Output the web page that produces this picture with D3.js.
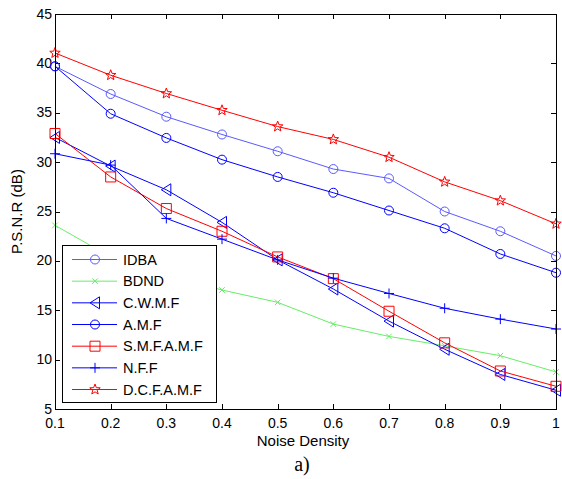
<!DOCTYPE html>
<html>
<head>
<meta charset="utf-8">
<script src="https://cdn.jsdelivr.net/npm/d3@7"></script>
<style>
    body { margin: 0; background: #fff; }
    svg { display: block; font-family: "Liberation Sans", Arial, sans-serif; }
</style>
</head>
<body>
<div id="chart"></div>
<script>
// data
const noiseDensity = [0.1, 0.2, 0.3, 0.4, 0.5, 0.6, 0.7, 0.8, 0.9, 1];
const idba   = [39.7, 36.9, 34.6, 32.8, 31.1, 29.3, 28.35, 25.0, 23.0, 20.5];
const bdnd   = [23.6, 20.4, 18.6, 17.05, 15.8, 13.6, 12.35, 11.4, 10.4, 8.75];
const cwmf   = [32.5, 29.6, 27.2, 23.9, 20.1, 17.15, 13.9, 11.05, 8.5, 6.9];
const amf    = [39.7, 34.9, 32.45, 30.25, 28.5, 26.9, 25.1, 23.3, 20.7, 18.8];
const smfamf = [32.9, 28.5, 25.3, 23.0, 20.4, 18.2, 14.9, 11.7, 8.85, 7.3];
const nff    = [30.85, 29.7, 24.3, 22.2, 20.1, 18.25, 16.7, 15.2, 14.1, 13.1];
const dcfamf = [41.05, 38.8, 36.95, 35.25, 33.6, 32.3, 30.5, 28.0, 26.1, 23.75];

const xTicks = [0.1, 0.2, 0.3, 0.4, 0.5, 0.6, 0.7, 0.8, 0.9, 1];
const yTicks = [5, 10, 15, 20, 25, 30, 35, 40, 45];

const series = [
    {name: "IDBA", values: idba, color: "#5a5aff", marker: "circle"},
    {name: "BDND", values: bdnd, color: "#66ee66", marker: "x"},
    {name: "C.W.M.F", values: cwmf, color: "#0000ff", marker: "triangle"},
    {name: "A.M.F", values: amf, color: "#0000ff", marker: "circle"},
    {name: "S.M.F.A.M.F", values: smfamf, color: "#ff0000", marker: "square"},
    {name: "N.F.F", values: nff, color: "#0000ff", marker: "plus"},
    {name: "D.C.F.A.M.F", values: dcfamf, color: "#ff0000", marker: "star"}
];

const width = 562, height = 479;
const plot = {left: 55, right: 556, top: 14, bottom: 409};

const svg = d3.select("#chart").append("svg")
    .attr("width", width)
    .attr("height", height);
svg.append("rect").attr("width", width).attr("height", height).attr("fill", "#fff");

const x = d3.scaleLinear().domain([0.1, 1]).range([plot.left, plot.right]);
const y = d3.scaleLinear().domain([5, 45]).range([plot.bottom, plot.top]);

// marker shapes, centred on 0,0
const markerPath = function(type) {
    if (type === "circle") {
        const r = 4.5;
        return `M${r},0A${r},${r} 0 1,1 ${-r},0A${r},${r} 0 1,1 ${r},0Z`;
    }
    if (type === "square") {return "M-5,-5H5V5H-5Z";}
    if (type === "triangle") {return "M-5,0L4.5,-6L4.5,6Z";}
    if (type === "plus") {return "M-5,0H5M0,-5V5";}
    if (type === "x") {return "M-2.8,-2.8L2.8,2.8M-2.8,2.8L2.8,-2.8";}
    // pentagram
    let pts = [];
    for (let i = 0; i < 10; i++) {
        const r = i % 2 === 0 ? 5.5 : 2.3;
        const a = -Math.PI / 2 + i * Math.PI / 5;
        pts.push([r * Math.cos(a), r * Math.sin(a)]);
    }
    return "M" + pts.map(p => p[0].toFixed(2) + "," + p[1].toFixed(2)).join("L") + "Z";
};

// axes with inward ticks on all four sides
const tickLen = 5;
const axes = svg.append("g").attr("stroke", "#000").attr("stroke-width", 1);
xTicks.forEach(t => {
    const px = Math.round(x(t)) + 0.5;
    axes.append("line").attr("x1", px).attr("x2", px).attr("y1", plot.bottom).attr("y2", plot.bottom - tickLen);
    axes.append("line").attr("x1", px).attr("x2", px).attr("y1", plot.top).attr("y2", plot.top + tickLen);
});
yTicks.forEach(t => {
    const py = Math.round(y(t)) + 0.5;
    axes.append("line").attr("x1", plot.left).attr("x2", plot.left + tickLen).attr("y1", py).attr("y2", py);
    axes.append("line").attr("x1", plot.right).attr("x2", plot.right - tickLen).attr("y1", py).attr("y2", py);
});

const labels = svg.append("g").attr("font-size", "14px").attr("fill", "#000");
labels.selectAll(".xt").data(xTicks).join("text")
    .attr("x", d => x(d))
    .attr("y", plot.bottom + 19)
    .attr("text-anchor", "middle")
    .text(d => d3.format("~g")(d));
labels.selectAll(".yt").data(yTicks).join("text")
    .attr("x", plot.left - 3)
    .attr("y", d => y(d) + 4.5)
    .attr("text-anchor", "end")
    .text(d => d);

labels.append("text")
    .attr("x", 303)
    .attr("y", 446)
    .attr("font-size", "15px")
    .attr("text-anchor", "middle")
    .text("Noise Density");
labels.append("text")
    .attr("transform", `translate(22, ${(plot.top + plot.bottom) / 2}) rotate(-90)`)
    .attr("font-size", "15px")
    .attr("text-anchor", "middle")
    .text("P.S.N.R (dB)");
svg.append("text")
    .attr("x", 302)
    .attr("y", 471)
    .attr("text-anchor", "middle")
    .attr("font-family", "'Liberation Serif', 'Times New Roman', serif")
    .attr("font-size", "20px")
    .text("a)");

// lines and markers
const line = d3.line()
    .x((d, i) => x(noiseDensity[i]))
    .y(d => y(d));

series.forEach(s => {
    const g = svg.append("g");
    g.append("path")
        .attr("d", line(s.values))
        .attr("fill", "none")
        .attr("stroke", s.color)
        .attr("stroke-width", 1);
    g.selectAll("path.mk").data(s.values).join("path")
        .attr("class", "mk")
        .attr("transform", (d, i) => `translate(${x(noiseDensity[i])},${y(d)})`)
        .attr("d", markerPath(s.marker))
        .attr("fill", "none")
        .attr("stroke", s.color)
        .attr("stroke-width", 1);
});

// box
svg.append("rect")
    .attr("x", plot.left + 0.5).attr("y", plot.top + 0.5)
    .attr("width", plot.right - plot.left).attr("height", plot.bottom - plot.top)
    .attr("fill", "none").attr("stroke", "#000").attr("stroke-width", 1);

// legend
const legend = svg.append("g");
legend.append("rect")
    .attr("x", 62.5).attr("y", 245.5)
    .attr("width", 154).attr("height", 157)
    .attr("fill", "#fff").attr("stroke", "#000").attr("stroke-width", 1);
series.forEach((s, i) => {
    const ly = 259.5 + i * 21.67;
    legend.append("line")
        .attr("x1", 72).attr("x2", 117).attr("y1", ly).attr("y2", ly)
        .attr("stroke", s.color).attr("stroke-width", 1);
    legend.append("path")
        .attr("transform", `translate(95,${ly})`)
        .attr("d", markerPath(s.marker))
        .attr("fill", "none").attr("stroke", s.color).attr("stroke-width", 1);
    legend.append("text")
        .attr("x", 123).attr("y", ly + 5)
        .attr("font-size", "14.5px")
        .text(s.name);
});
</script>
</body>
</html>
